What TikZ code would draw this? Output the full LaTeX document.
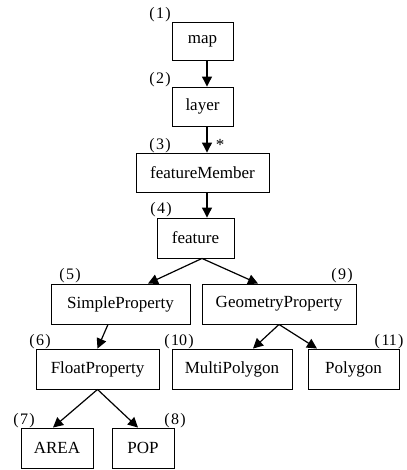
\documentclass[tikz,border=0pt]{standalone}
\usepackage{fontspec}
\setmainfont{Liberation Serif}
\usetikzlibrary{arrows.meta}
\newcommand{\tagno}[1]{(\hspace{1.6pt}#1\hspace{1.2pt})}
\begin{document}
\begin{tikzpicture}[x=1pt,y=-1pt,
  box/.style={draw,line width=0.9pt,inner sep=0pt,font=\fontsize{17}{20}\selectfont},
  num/.style={inner sep=0pt,font=\fontsize{16}{19}\selectfont},
  arr/.style={line width=1.2pt,-{Triangle[length=10pt,width=10pt]}}]
\useasboundingbox (0,0) rectangle (406,470);
% class boxes
\node[box,minimum width=61pt,minimum height=38pt] (map) at (202.5,41) {map};
\node[box,minimum width=61pt,minimum height=39pt] (layer) at (202.5,106.5) {layer};
\node[box,minimum width=133pt,minimum height=39pt] (fm) at (202.5,172.5) {featureMember};
\node[box,minimum width=77pt,minimum height=40pt] (feature) at (195.5,238) {feature};
\node[box,minimum width=139pt,minimum height=40pt] (simple) at (120.5,304) {SimpleProperty};
\node[box,minimum width=154pt,minimum height=40pt] (geom) at (279,304) {GeometryProperty};
\node[box,minimum width=123pt,minimum height=40pt] (float) at (97.5,369) {FloatProperty};
\node[box,minimum width=120pt,minimum height=40pt] (multi) at (232,369) {MultiPolygon};
\node[box,minimum width=91pt,minimum height=40pt] (poly) at (353.5,369) {Polygon};
\node[box,minimum width=72pt,minimum height=40pt] (area) at (57,448) {AREA};
\node[box,minimum width=62pt,minimum height=40pt] (pop) at (143,448) {POP};
% numbering
\node[num] (n1) at (160,15) {\tagno{1}};
\node[num] (n2) at (160,80) {\tagno{2}};
\node[num] (n3) at (160,146) {\tagno{3}};
\node[num] (n4) at (161,210) {\tagno{4}};
\node[num] (n5) at (70,276) {\tagno{5}};
\node[num] (n9) at (342,276) {\tagno{9}};
\node[num] (n6) at (40,342) {\tagno{6}};
\node[num] (n10) at (179,342) {\tagno{10}};
\node[num] (n11) at (389,342) {\tagno{11}};
\node[num] (n7) at (24,421) {\tagno{7}};
\node[num] (n8) at (175,421) {\tagno{8}};
\node[inner sep=0pt,font=\fontsize{17}{20}\selectfont] (star) at (220,145) {*};
% connectors
\coordinate (axis) at (207,0);
\draw[arr] (map.south -| axis) -- (layer.north -| axis);
\draw[arr] (layer.south -| axis) -- (fm.north -| axis);
\draw[arr] (fm.south -| axis) -- (feature.north -| axis);
\coordinate (fs) at ([xshift=6.5pt]feature.south);
\draw[arr] (fs) -- ([xshift=27.5pt]simple.north);
\draw[arr] (fs) -- ([xshift=-21pt]geom.north);
\draw[arr] ([xshift=-12.5pt]simple.south) -- (float.north);
\draw[arr] (geom.south) -- ([xshift=21pt]multi.north);
\draw[arr] (geom.south) -- ([xshift=-36.5pt]poly.north);
\draw[arr] (float.south) -- ([xshift=-4pt]area.north);
\draw[arr] (float.south) -- ([xshift=-5pt]pop.north);
\end{tikzpicture}
\end{document}
